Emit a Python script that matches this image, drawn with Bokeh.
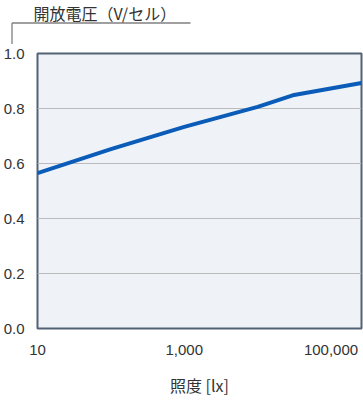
from bokeh.plotting import figure
from bokeh.models import Range1d, FixedTicker, NumeralTickFormatter
from bokeh.core.properties import value
from bokeh.embed import file_html
from bokeh.resources import INLINE

# Data
illuminance = [10, 100, 1000, 10000, 30000, 260000]
voltage = [0.565, 0.652, 0.733, 0.806, 0.848, 0.893]
x_ticks = [10, 1000, 100000]
y_ticks = [0.0, 0.2, 0.4, 0.6, 0.8, 1.0]
y_title = "開放電圧（V/セル）"
x_title = "照度 [lx]"

JP = "Noto Sans CJK JP"
LAT = "Liberation Sans"

# Header strip: y-axis title with bracket
top = figure(width=363, height=44, x_range=Range1d(0, 363), y_range=Range1d(44, 0),
             output_backend="svg", toolbar_location=None, min_border=0,
             border_fill_color="white", background_fill_color="white", outline_line_color=None)
top.axis.visible = False
top.grid.visible = False
top.text(x=[33], y=[12], text=[y_title], text_font=value(JP), text_font_size="16px",
         text_color="#333333", text_baseline="middle", text_align="left")
top.line(x=[11.5, 190], y=[22.5, 22.5], line_color="#808080", line_width=1.3)
top.line(x=[11.5, 11.5], y=[22.5, 44], line_color="#808080", line_width=1.3)

# Main chart
p = figure(width=363, height=369, x_axis_type="log",
           x_range=Range1d(10, 260000), y_range=Range1d(0, 1),
           output_backend="svg", toolbar_location=None,
           min_border_left=36, min_border_right=2, min_border_top=9, min_border_bottom=85,
           background_fill_color="#eff3f7", border_fill_color="white",
           outline_line_color="#516374", outline_line_width=2)

p.line(illuminance, voltage, line_color="#0a5cb8", line_width=4)

p.xgrid.visible = False
p.ygrid.ticker = FixedTicker(ticks=[0.2, 0.4, 0.6, 0.8])
p.ygrid.grid_line_color = "#bbbbbb"
p.ygrid.grid_line_width = 1

for ax in (p.xaxis[0], p.yaxis[0]):
    ax.axis_line_color = None
    ax.major_tick_line_color = None
    ax.minor_tick_line_color = None
    ax.major_tick_out = 0
    ax.major_tick_in = 0
    ax.minor_tick_out = 0
    ax.minor_tick_in = 0
    ax.major_label_text_font = LAT
    ax.major_label_text_font_size = "15px"
    ax.major_label_text_color = "#333333"

p.yaxis[0].ticker = FixedTicker(ticks=y_ticks)
p.yaxis[0].formatter = NumeralTickFormatter(format="0.0")
p.yaxis[0].major_label_standoff = 13

p.xaxis[0].ticker = FixedTicker(ticks=x_ticks)
p.xaxis[0].formatter = NumeralTickFormatter(format="0,0")
p.xaxis[0].major_label_standoff = 16
p.xaxis[0].axis_label = x_title
p.xaxis[0].axis_label_text_font = JP
p.xaxis[0].axis_label_text_font_size = "16px"
p.xaxis[0].axis_label_text_font_style = "normal"
p.xaxis[0].axis_label_text_color = "#333333"
p.xaxis[0].axis_label_standoff = 15

open("out.html", "w").write(file_html([top, p], INLINE))
